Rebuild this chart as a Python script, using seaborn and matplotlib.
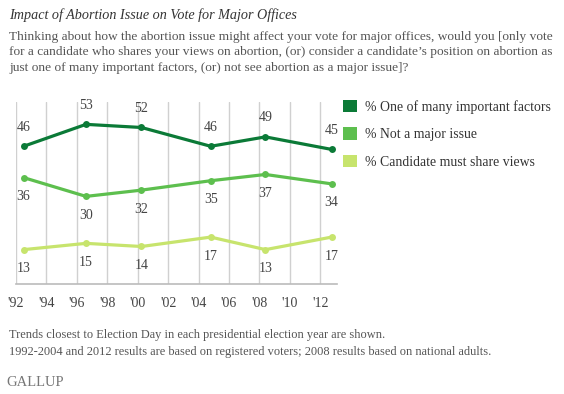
import pandas as pd
import seaborn as sns
import matplotlib.pyplot as plt
from matplotlib.patches import Patch

# survey dates (approximate position within each election year)
years = [1992.5, 1996.6, 2000.25, 2004.8, 2008.4, 2012.75]
one_of_many = [46, 53, 52, 46, 49, 45]
not_major = [36, 30, 32, 35, 37, 34]
must_share = [13, 15, 14, 17, 13, 17]

series_names = ['% One of many important factors', '% Not a major issue',
                '% Candidate must share views']
tick_years = list(range(1992, 2013, 2))
tick_labels = ["'92", "'94", "'96", "'98", "'00", "'02", "'04", "'06", "'08", "'10", "'12"]

colors = ['#0b7a37', '#5dbf4e', '#c7e46d']

df = pd.DataFrame({
    'year': years * 3,
    'pct': one_of_many + not_major + must_share,
    'series': [series_names[0]] * 6 + [series_names[1]] * 6 + [series_names[2]] * 6,
})

sns.set_style('white')
plt.rcParams['font.family'] = ['Liberation Serif', 'DejaVu Serif']

fig = plt.figure(figsize=(5.64, 3.94), dpi=100)
ax = fig.add_axes([0.0284, 0.279, 0.569, 0.461])

sns.lineplot(data=df, x='year', y='pct', hue='series', palette=colors,
             marker='o', markersize=5, markeredgewidth=0, linewidth=2.3,
             legend=False, ax=ax)

# value labels: top series above points, the others below
offsets = [9, -9, -9]
for name, col, off in zip(series_names, colors, offsets):
    sub = df[df['series'] == name]
    for x, y in zip(sub['year'], sub['pct']):
        ax.annotate(str(y), (x, y), xytext=(0, off), textcoords='offset points',
                    ha='center', va='bottom' if off > 0 else 'top',
                    fontsize=10, color='#444444')

ax.set_xlim(1992, 2013.1)
ax.set_ylim(2, 60)
ax.set_xticks(tick_years)
ax.set_xticklabels(tick_labels, fontsize=10, color='#444444')
ax.set_yticks([])
ax.set_xlabel('')
ax.set_ylabel('')
ax.grid(axis='x', color='#d0d0d0', linewidth=1)
ax.tick_params(axis='x', length=0, pad=9)
for s in ['top', 'right', 'left']:
    ax.spines[s].set_visible(False)
ax.spines['bottom'].set_color('#bbbbbb')
ax.spines['bottom'].set_linewidth(1.2)

handles = [Patch(facecolor=c, edgecolor='none') for c in colors]
fig.legend(handles, series_names, loc='upper left', bbox_to_anchor=(0.608, 0.747),
           frameon=False, fontsize=9.9, handlelength=1.0, handleheight=1.0,
           handletextpad=0.6, labelspacing=1.0, borderaxespad=0, borderpad=0,
           labelcolor='#333333')

fig.text(0.016, 0.962, 'Impact of Abortion Issue on Vote for Major Offices',
         fontsize=10.2, style='italic', color='#333333', va='center')
fig.text(0.016, 0.921,
         'Thinking about how the abortion issue might affect your vote for major offices, would you [only vote\n'
         'for a candidate who shares your views on abortion, (or) consider a candidate\u2019s position on abortion as\n'
         'just one of many important factors, (or) not see abortion as a major issue]?',
         fontsize=9.6, color='#555555', va='top', linespacing=1.37)
fig.text(0.016, 0.128,
         'Trends closest to Election Day in each presidential election year are shown.\n'
         '1992-2004 and 2012 results are based on registered voters; 2008 results based on national adults.',
         fontsize=8.9, color='#555555', va='center', linespacing=1.65)
fig.text(0.012, 0.028, 'GALLUP', fontsize=10.5, color='#777777', va='center')

fig.savefig('out.png', dpi=100)
